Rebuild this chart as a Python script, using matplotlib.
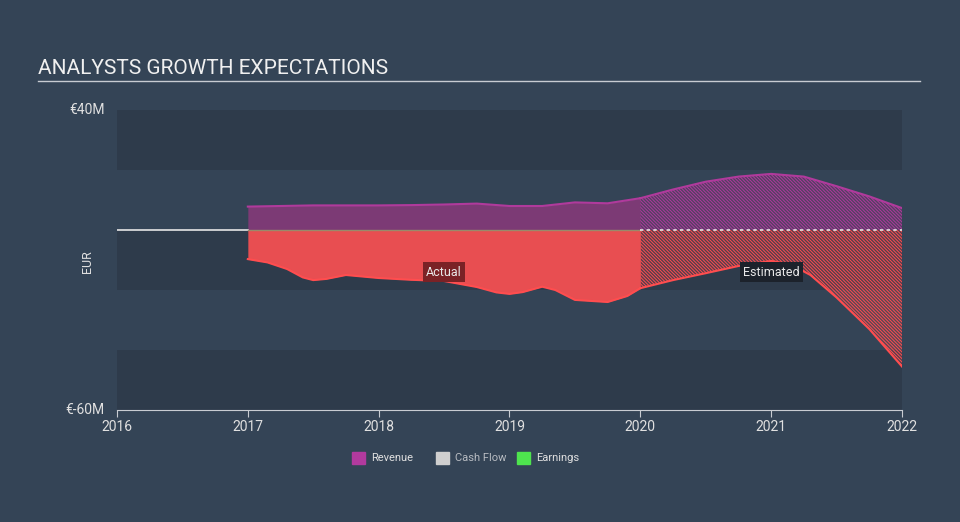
import matplotlib.pyplot as plt
from matplotlib.patches import Rectangle

plt.rcParams['font.family'] = ['Roboto', 'DejaVu Sans']

# data (EUR millions)
rev_act_x = [2017, 2017.25, 2017.5, 2017.75, 2018, 2018.25, 2018.5, 2018.75, 2019, 2019.25, 2019.5, 2019.75, 2020]
rev_act_y = [7.8, 8.0, 8.2, 8.2, 8.2, 8.3, 8.5, 8.8, 8.0, 8.0, 9.2, 8.9, 10.6]
rev_est_x = [2020, 2020.25, 2020.5, 2020.75, 2021, 2021.25, 2021.5, 2021.75, 2022]
rev_est_y = [10.6, 13.5, 16.1, 17.8, 18.7, 17.8, 14.6, 11.2, 7.3]

earn_act_x = [2017, 2017.15, 2017.3, 2017.42, 2017.5, 2017.6, 2017.75, 2018, 2018.25, 2018.5, 2018.75,
              2018.9, 2019, 2019.1, 2019.25, 2019.35, 2019.5, 2019.75, 2019.9, 2020]
earn_act_y = [-9.7, -10.8, -13.0, -15.8, -16.7, -16.3, -15.0, -16.0, -16.6, -17.0, -19.0,
              -20.8, -21.3, -20.7, -18.9, -20.0, -23.3, -24.0, -22.0, -19.4]
earn_est_x = [2020, 2020.25, 2020.5, 2020.75, 2021, 2021.15, 2021.3, 2021.5, 2021.75, 2022]
earn_est_y = [-19.4, -16.7, -14.4, -12.0, -10.3, -11.5, -15.0, -22.5, -33.0, -45.5]

years = [2016, 2017, 2018, 2019, 2020, 2021, 2022]
legend_names = ['Revenue', 'Cash Flow', 'Earnings']
legend_colors = ['#b23a9e', '#cfcfcf', '#4ee44e']

bg = '#344456'
band = '#2e3b4b'
rev_line = '#b03a9c'
rev_fill = '#7c3a75'
earn_line = '#ff4d4f'
earn_fill = '#e84e51'

fig = plt.figure(figsize=(9.6, 5.22), dpi=100, facecolor=bg)
ax = fig.add_axes([117/960, 1 - 410/522, (902-117)/960, 300/522])
ax.set_facecolor(bg)
ax.set_xlim(2016, 2022)
ax.set_ylim(-60, 40)

# alternating bands
for lo, hi in [(20, 40), (-20, 0), (-60, -40)]:
    ax.axhspan(lo, hi, color=band, lw=0, zorder=0)

# actual part
ax.fill_between(rev_act_x, 0, rev_act_y, color=rev_fill, lw=0, zorder=2)
ax.plot(rev_act_x, rev_act_y, color=rev_line, lw=1.5, zorder=3)
ax.fill_between(earn_act_x, 0, earn_act_y, color=earn_fill, lw=0, zorder=2)
ax.plot(earn_act_x, earn_act_y, color=earn_line, lw=1.5, zorder=3)

# estimated part, hatched
plt.rcParams['hatch.linewidth'] = 0.7
ax.fill_between(rev_est_x, 0, rev_est_y, facecolor=(0.48, 0.23, 0.46, 0.45),
                edgecolor=rev_line, hatch='\\' * 10, lw=0, zorder=2)
ax.plot(rev_est_x, rev_est_y, color=rev_line, lw=1.5, zorder=3)
ax.fill_between(earn_est_x, 0, earn_est_y, facecolor=(0.91, 0.31, 0.32, 0.2),
                edgecolor=earn_line, hatch='\\' * 10, lw=0, zorder=2)
ax.plot(earn_est_x, earn_est_y, color=earn_line, lw=1.5, zorder=3)

# zero line
ax.plot([2016, 2017], [0, 0], color='#e6e6e6', lw=1.2, zorder=4)
ax.plot([2017, 2020], [0, 0], color='#9a8a6a', lw=1.0, zorder=4)
ax.plot([2020, 2022], [0, 0], color='#e6e6e6', lw=1.2, ls=(0, (2, 2)), zorder=4)

# labels
ax.text(2018.5, -14, 'Actual', color='#e8e8e8', fontsize=9, ha='center', va='center', zorder=5,
        bbox=dict(boxstyle='square,pad=0.25', fc='#7a2226', ec='none'))
ax.text(2021, -14, 'Estimated', color='#e8e8e8', fontsize=9, ha='center', va='center', zorder=5,
        bbox=dict(boxstyle='square,pad=0.25', fc='#1c222b', ec='none'))

# axes styling
for s in ['top', 'right', 'left']:
    ax.spines[s].set_visible(False)
ax.spines['bottom'].set_color('#c8ccd2')
ax.set_xticks(years)
ax.set_xticklabels([str(y) for y in years])
ax.tick_params(axis='x', colors='#c8ccd2', labelcolor='#e0e0e0', labelsize=10, length=5, pad=2)
ax.set_yticks([])
ax.text(-0.016, 1, '€40M', transform=ax.transAxes, ha='right', va='center', color='#e0e0e0', fontsize=10)
ax.text(-0.016, 0, '€-60M', transform=ax.transAxes, ha='right', va='center', color='#e0e0e0', fontsize=10)
fig.text(88/960, 1 - 262/522, 'EUR', rotation=90, ha='center', va='center', color='#e0e0e0', fontsize=9)

# title
fig.text(38/960, 1 - 68/522, 'ANALYSTS GROWTH EXPECTATIONS', color='#f0f0f0', fontsize=15,
         ha='left', va='center')
fig.add_artist(plt.Line2D([38/960, 920/960], [1 - 81/522, 1 - 81/522], color='#c8ccd2', lw=1))

# legend
lx = [352, 436, 517]
for x, name, c in zip(lx, legend_names, legend_colors):
    fig.add_artist(Rectangle((x/960, 1 - 464/522), 13/960, 12/522, color=c, transform=fig.transFigure))
    fig.text((x + 19)/960, 1 - 458/522, name, color='#e0e0e0' if name != 'Cash Flow' else '#b8bcc2',
             fontsize=8, ha='left', va='center')

fig.savefig('out.png', dpi=100, facecolor=bg)
